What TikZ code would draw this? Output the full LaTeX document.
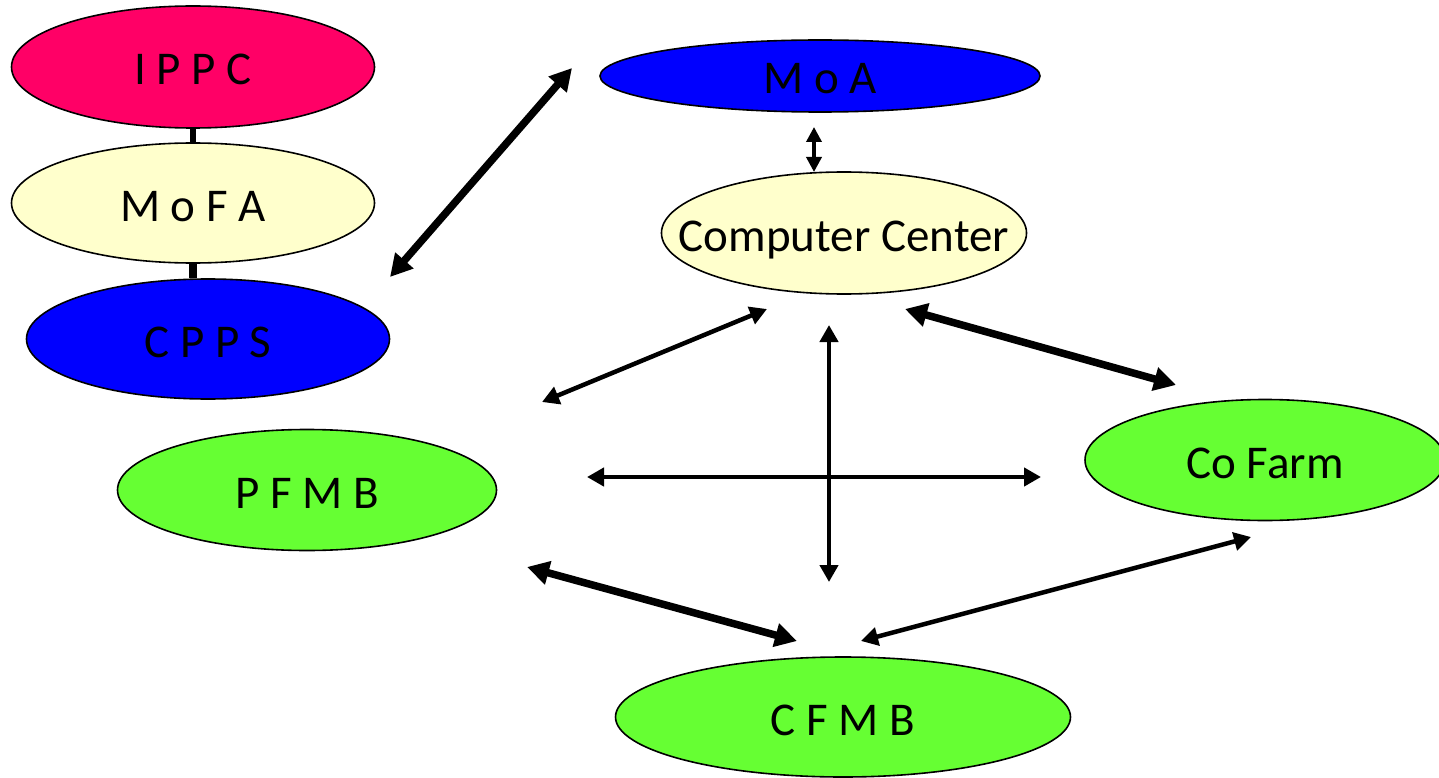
\documentclass[tikz,border=0pt]{standalone}
\usepackage{fontspec}
\setmainfont{Carlito}
\usetikzlibrary{shapes.geometric,arrows.meta}

\definecolor{ippcred}{HTML}{FF0066}
\definecolor{paleyellow}{HTML}{FFFFCC}
\definecolor{farmgreen}{HTML}{66FF33}

\tikzset{
  org/.style={ellipse, draw=black, line width=1.6pt, inner sep=0pt,
    text height=36pt, text depth=0pt, font=\fontsize{47}{50}\selectfont},
  thinlink/.style={line width=3.5pt, {Triangle[length=15pt,width=15pt]}-{Triangle[length=15pt,width=15pt]}},
  link/.style={line width=4.5pt, {Triangle[length=17pt,width=18pt]}-{Triangle[length=17pt,width=18pt]}},
  biglink/.style={line width=7.5pt, {Triangle[length=22pt,width=23pt]}-{Triangle[length=22pt,width=23pt]}},
}

\begin{document}
\begin{tikzpicture}[x=1pt,y=-1pt]
  \useasboundingbox (0,0) rectangle (1439,778);

  % left column
  \node[org, fill=ippcred, minimum width=363pt, minimum height=122pt] (IPPC) at (193,67) {I P P C};
  \node[org, fill=paleyellow, minimum width=363pt, minimum height=120pt] (MoFA) at (193,203) {M o F A};
  \node[org, fill=blue, minimum width=363pt, minimum height=120pt] (CPPS) at (208,339) {C P P S};
  \draw[line width=6pt] (IPPC.south) -- (MoFA.north);
  \draw[line width=8pt] (MoFA.south) -- (MoFA.south |- CPPS.north);

  % right side
  \node[org, fill=blue, minimum width=440pt, minimum height=72pt] (MoA) at (820,76) {M o A};
  \node[org, fill=paleyellow, minimum width=365pt, minimum height=122pt, inner xsep=-36pt] (CC) at (844,233) {Computer Center};
  \node[org, fill=farmgreen, minimum width=379pt, minimum height=121pt] (PFMB) at (307,490) {P F M B};
  \node[org, fill=farmgreen, minimum width=360pt, minimum height=121pt] (CoFarm) at (1265,460) {Co Farm};
  \node[org, fill=farmgreen, minimum width=455pt, minimum height=120pt] (CFMB) at (843,717) {C F M B};

  % free arrow ends
  \coordinate (cpps-end) at (390,277);
  \coordinate (moa-end) at (572,68);
  \coordinate (moa-low) at (814,127);
  \coordinate (cc-top) at (814,172);
  \coordinate (cc-left) at (767,309);
  \coordinate (pfmb-up) at (542,402);
  \coordinate (cc-mid) at (829,325);
  \coordinate (cfmb-up) at (829,582);
  \coordinate (pfmb-right) at (587,477);
  \coordinate (cofarm-left) at (1041,477);
  \coordinate (cc-right) at (905,309);
  \coordinate (cofarm-up) at (1176,385);
  \coordinate (pfmb-low) at (527,567);
  \coordinate (cfmb-left) at (797,641);
  \coordinate (cofarm-low) at (1251,537);
  \coordinate (cfmb-right) at (861,641);

  \draw[biglink] (cpps-end) -- (moa-end);
  \draw[thinlink] (moa-low) -- (cc-top);
  \draw[link] (pfmb-up) -- (cc-left);
  \draw[link] (cc-mid) -- (cfmb-up);
  \draw[link] (pfmb-right) -- (cofarm-left);
  \draw[biglink] (cc-right) -- (cofarm-up);
  \draw[biglink] (pfmb-low) -- (cfmb-left);
  \draw[link] (cofarm-low) -- (cfmb-right);
\end{tikzpicture}
\end{document}
